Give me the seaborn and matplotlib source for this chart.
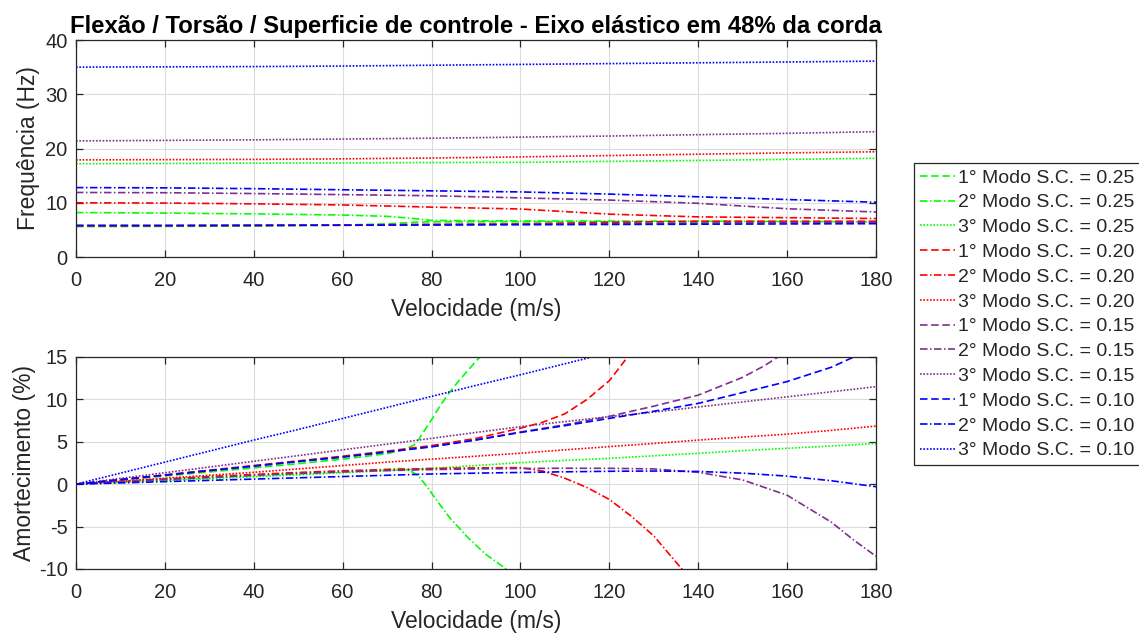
import matplotlib
matplotlib.use("Agg")
import matplotlib.pyplot as plt
import seaborn as sns

# ---------------- data ----------------
# velocity grids (m/s)
vel_f = [0, 20, 40, 60, 80, 100, 120, 140, 160, 180]
vel_f_g = [0, 20, 40, 60, 70, 76, 80, 100, 140, 180]
vel_d = [0, 10, 20, 30, 40, 50, 60, 70, 80, 90, 100, 110, 120, 130, 140, 150, 160, 170, 180]

# frequency (Hz), control-surface stiffness S.C. = 0.25
freq_m1_025 = [5.6, 5.65, 5.7, 5.9, 6.1, 6.4, 6.5, 6.5, 6.5, 6.4]
freq_m2_025 = [8.2, 8.1, 7.95, 7.74, 7.5, 7.1, 6.75, 6.65, 6.6, 6.5]
freq_m3_025 = [17.2, 17.25, 17.3, 17.35, 17.38, 17.4, 17.42, 17.45, 17.8, 18.2]
# S.C. = 0.20
freq_m1_020 = [5.8, 5.8, 5.85, 5.9, 6.0, 6.1, 6.4, 6.6, 6.6, 6.6]
freq_m2_020 = [10.0, 9.95, 9.8, 9.6, 9.2, 8.85, 7.9, 7.4, 7.25, 7.1]
freq_m3_020 = [17.9, 17.95, 18.0, 18.1, 18.25, 18.45, 18.7, 18.95, 19.2, 19.4]
# S.C. = 0.15
freq_m1_015 = [5.8, 5.8, 5.85, 5.9, 6.0, 6.05, 6.15, 6.25, 6.35, 6.4]
freq_m2_015 = [11.9, 11.85, 11.7, 11.5, 11.3, 10.9, 10.5, 9.9, 8.9, 8.3]
freq_m3_015 = [21.4, 21.5, 21.6, 21.75, 21.9, 22.1, 22.3, 22.55, 22.8, 23.1]
# S.C. = 0.10
freq_m1_010 = [5.8, 5.8, 5.82, 5.85, 5.9, 5.95, 6.0, 6.05, 6.1, 6.15]
freq_m2_010 = [12.8, 12.75, 12.6, 12.4, 12.2, 12.0, 11.6, 11.1, 10.6, 10.1]
freq_m3_010 = [35.0, 35.05, 35.1, 35.2, 35.35, 35.5, 35.65, 35.8, 35.95, 36.1]

# damping (%), S.C. = 0.25
vel_d_m1_025 = [0, 10, 20, 30, 40, 50, 60, 70, 74, 76, 77, 78, 80, 82, 84, 86, 88, 90, 92]
damp_m1_025 = [0, 0.48, 0.96, 1.44, 1.92, 2.42, 2.95, 3.6, 4.1, 4.6, 5.2, 6.0, 7.6, 9.3, 10.8, 12.1, 13.3, 14.5, 15.6]
vel_d_m2_025 = [0, 10, 20, 30, 40, 50, 60, 70, 73, 75, 77, 79, 81, 84, 88, 92, 96, 98]
damp_m2_025 = [0, 0.25, 0.5, 0.75, 1.0, 1.22, 1.45, 1.75, 1.85, 1.65, 1.0, -0.3, -1.8, -3.9, -6.2, -8.2, -9.7, -10.5]
damp_m3_025 = [0, 0.22, 0.44, 0.66, 0.88, 1.1, 1.35, 1.6, 1.85, 2.2, 2.54, 2.8, 3.05, 3.35, 3.64, 3.95, 4.23, 4.5, 4.8]
# S.C. = 0.20
vel_d_m1_020 = [0, 10, 20, 30, 40, 50, 60, 70, 80, 90, 100, 105, 110, 115, 120, 125]
damp_m1_020 = [0, 0.55, 1.1, 1.65, 2.2, 2.75, 3.3, 3.9, 4.55, 5.4, 6.6, 7.3, 8.3, 10.0, 12.2, 15.6]
vel_d_m2_020 = [0, 10, 20, 30, 40, 50, 60, 70, 80, 90, 100, 105, 110, 115, 120, 125, 130, 135, 138]
damp_m2_020 = [0, 0.32, 0.62, 0.9, 1.15, 1.38, 1.58, 1.72, 1.85, 1.92, 1.95, 1.55, 0.7, -0.4, -1.8, -3.8, -6.1, -9.2, -11.0]
damp_m3_020 = [0, 0.35, 0.7, 1.05, 1.4, 1.8, 2.2, 2.6, 2.95, 3.3, 3.65, 4.05, 4.43, 4.8, 5.2, 5.55, 5.9, 6.35, 6.85]
# S.C. = 0.15
vel_d_m1_015 = [0, 10, 20, 30, 40, 50, 60, 70, 80, 90, 100, 110, 120, 130, 140, 150, 155, 160]
damp_m1_015 = [0, 0.53, 1.06, 1.6, 2.13, 2.67, 3.2, 3.8, 4.45, 5.25, 6.15, 7.0, 8.0, 9.2, 10.5, 12.6, 14.0, 15.7]
vel_d_m2_015 = [0, 10, 20, 30, 40, 50, 60, 70, 80, 90, 100, 110, 120, 130, 140, 150, 160, 170, 175, 180]
damp_m2_015 = [0, 0.28, 0.55, 0.8, 1.05, 1.27, 1.45, 1.6, 1.72, 1.8, 1.85, 1.88, 1.87, 1.8, 1.4, 0.5, -1.3, -4.5, -6.6, -8.5]
damp_m3_015 = [0, 0.68, 1.35, 2.02, 2.7, 3.37, 4.05, 4.72, 5.4, 6.1, 6.78, 7.38, 7.96, 8.5, 9.1, 9.7, 10.3, 10.9, 11.5]
# S.C. = 0.10
damp_m1_010 = [0, 0.53, 1.06, 1.6, 2.13, 2.67, 3.2, 3.8, 4.4, 5.2, 6.1, 6.9, 7.76, 8.6, 9.53, 10.8, 12.1, 13.8, 16.2]
damp_m2_010 = [0, 0.15, 0.3, 0.45, 0.6, 0.75, 0.9, 1.05, 1.2, 1.3, 1.38, 1.46, 1.52, 1.55, 1.5, 1.3, 0.95, 0.4, -0.3]
damp_m3_010 = [0, 1.3, 2.6, 3.9, 5.2, 6.45, 7.75, 9.05, 10.35, 11.65, 12.9, 14.2, 15.5, 16.8, 18.1, 19.4, 20.7, 22.0, 23.3]

sc_labels = ["0.25", "0.20", "0.15", "0.10"]
mode_names = ["1° Modo", "2° Modo", "3° Modo"]

# ---------------- style ----------------
sns.set_theme(style="whitegrid")
plt.rcParams["font.family"] = ["Liberation Sans", "DejaVu Sans"]
plt.rcParams["axes.unicode_minus"] = False

colors = {"0.25": (0.0, 1.0, 0.0), "0.20": (1.0, 0.0, 0.0),
          "0.15": (0.494, 0.184, 0.556), "0.10": (0.0, 0.0, 1.0)}
styles = [(0, (4.5, 2.2)), (0, (4.5, 1.5, 0.9, 1.5)), (0, (1, 1))]

freq_series = {
    "0.25": [(vel_f_g, freq_m1_025), (vel_f_g, freq_m2_025), (vel_f_g, freq_m3_025)],
    "0.20": [(vel_f, freq_m1_020), (vel_f, freq_m2_020), (vel_f, freq_m3_020)],
    "0.15": [(vel_f, freq_m1_015), (vel_f, freq_m2_015), (vel_f, freq_m3_015)],
    "0.10": [(vel_f, freq_m1_010), (vel_f, freq_m2_010), (vel_f, freq_m3_010)],
}
damp_series = {
    "0.25": [(vel_d_m1_025, damp_m1_025), (vel_d_m2_025, damp_m2_025), (vel_d, damp_m3_025)],
    "0.20": [(vel_d_m1_020, damp_m1_020), (vel_d_m2_020, damp_m2_020), (vel_d, damp_m3_020)],
    "0.15": [(vel_d_m1_015, damp_m1_015), (vel_d_m2_015, damp_m2_015), (vel_d, damp_m3_015)],
    "0.10": [(vel_d, damp_m1_010), (vel_d, damp_m2_010), (vel_d, damp_m3_010)],
}

fig = plt.figure(figsize=(11.39, 6.37), dpi=100)
ax1 = fig.add_axes([0.0667, 0.5965, 0.7024, 0.3407])
ax2 = fig.add_axes([0.0667, 0.1068, 0.7024, 0.3328])

for ax, series in ((ax1, freq_series), (ax2, damp_series)):
    for sc in sc_labels:
        for k, (x, y) in enumerate(series[sc]):
            sns.lineplot(x=x, y=y, ax=ax, color=colors[sc], linestyle=styles[k],
                         linewidth=1.2, label=f"{mode_names[k]} S.C. = {sc}",
                         legend=False, sort=False, estimator=None)

axis_color = "#262626"
tick_fs = 14.5
label_fs = 16.5
for ax in (ax1, ax2):
    ax.set_xlim(0, 180)
    ax.set_xticks(range(0, 181, 20))
    ax.grid(True, color="#dcdcdc", linewidth=0.8)
    ax.set_axisbelow(True)
    for s in ax.spines.values():
        s.set_visible(True)
        s.set_color(axis_color)
        s.set_linewidth(0.9)
    ax.tick_params(direction="in", length=5, width=0.9, color=axis_color,
                   labelcolor=axis_color, labelsize=tick_fs,
                   top=True, right=True, bottom=True, left=True)
    ax.tick_params(axis="x", pad=10)
    ax.tick_params(axis="y", pad=6)
    ax.set_xlabel("Velocidade (m/s)", fontsize=label_fs, color=axis_color, labelpad=6)

ax1.set_ylim(0, 40)
ax1.set_yticks(range(0, 41, 10))
ax1.set_ylabel("Frequência (Hz)", fontsize=label_fs, color=axis_color, labelpad=4)
ax1.set_title("Flexão / Torsão / Superficie de controle - Eixo elástico em 48% da corda",
              fontsize=17.2, fontweight="bold", color="black", pad=5)

ax2.set_ylim(-10, 15)
ax2.set_yticks(range(-10, 16, 5))
ax2.set_ylabel("Amortecimento (%)", fontsize=label_fs, color=axis_color, labelpad=2)

handles, labels = ax1.get_legend_handles_labels()
leg = fig.legend(handles, labels, loc="upper left", bbox_to_anchor=(0.8025, 0.744),
                 borderaxespad=0, fontsize=14, handlelength=1.8, handletextpad=0.15,
                 labelspacing=0.37, borderpad=0.3, fancybox=False, framealpha=1,
                 edgecolor=axis_color)
leg.get_frame().set_linewidth(0.9)

fig.savefig("out.png", dpi=100)
